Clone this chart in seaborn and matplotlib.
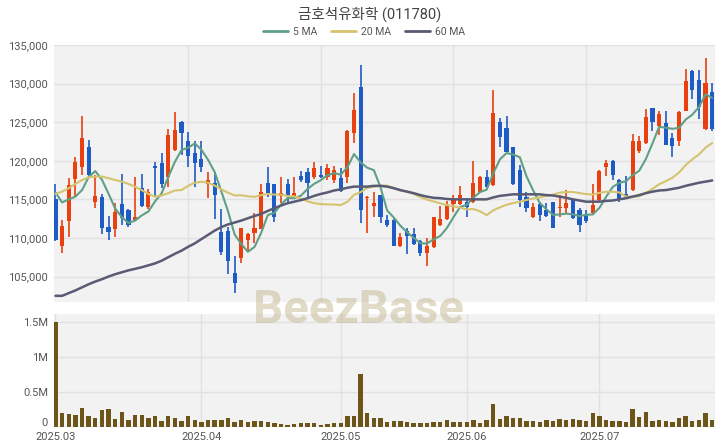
import matplotlib
matplotlib.use("Agg")
import matplotlib.pyplot as plt
from matplotlib.lines import Line2D
import matplotlib.transforms as mtransforms
import numpy as np
import pandas as pd
import seaborn as sns

# ---------------- data ----------------
title = "금호석유화학 (011780)"
month_labels = ["2025.03", "2025.04", "2025.05", "2025.06", "2025.07"]
month_pos = [0, 22, 43, 62, 82]

opens = [115000, 109000, 112200, 117700, 119250, 121750, 114600, 115350, 111450, 111150,
         114350, 113600, 112300, 116450, 114050, 119350, 119650, 117950, 121400, 125050,
         122500, 120950, 120200, 117000, 117150, 110800, 110950, 105400, 107350, 109750,
         110600, 111150, 117100, 116950, 115450, 116950, 115300, 118050, 118500, 117950,
         118150, 117950, 117500, 117750, 117950, 123550, 129600, 115150, 114150, 115550,
         112350, 112350, 108900, 110900, 110500, 109600, 108100, 108800, 111700, 112400,
         114400, 114400, 114700, 114600, 116000, 117950, 116900, 125050, 124300, 121750,
         118800, 115350, 112700, 114350, 113600, 114600, 113850, 113850, 115000, 113600,
         112950, 113200, 114900, 119250, 120000, 117500, 115700, 116200, 121250, 122250,
         126800, 124500, 124850, 123000, 122550, 126450, 131650, 130450, 124100, 128950]
highs = [117000, 112300, 117800, 120500, 125800, 122700, 118150, 115700, 112900, 114500,
         118250, 113700, 117950, 118250, 116350, 119900, 120950, 124100, 126350, 125200,
         123700, 122550, 122550, 118500, 118500, 113700, 111450, 107600, 111250, 110700,
         113200, 117000, 119150, 116950, 117850, 117600, 117950, 118700, 119100, 119900,
         119350, 119550, 119350, 119050, 124000, 128750, 132400, 115400, 116000, 115600,
         113000, 112500, 110700, 111250, 111350, 109700, 109950, 112750, 114200, 114800,
         115550, 116750, 115150, 120000, 118050, 118750, 129200, 125600, 125850, 121800,
         119450, 116000, 114500, 114700, 114500, 114650, 115550, 116200, 115100, 113850,
         113600, 116950, 118800, 120100, 120050, 117600, 118050, 123450, 123150, 126700,
         126850, 126450, 126450, 123550, 126400, 131850, 131700, 131750, 133300, 130050]
lows = [109600, 108100, 110100, 115350, 118100, 118000, 113850, 110500, 109750, 110150,
        111700, 111450, 112200, 114050, 113700, 115350, 116450, 116650, 121300, 120750,
        119250, 116650, 118600, 115200, 112450, 107800, 105350, 102850, 106700, 108300,
        109300, 111150, 115350, 112100, 114500, 114700, 115150, 117300, 115350, 117600,
        117750, 117500, 117150, 116000, 117100, 122350, 111900, 110700, 112750, 112000,
        111450, 108900, 108800, 107950, 109100, 107650, 106300, 108700, 111600, 112300,
        113300, 114300, 112700, 114500, 115900, 116500, 116700, 121750, 121100, 116900,
        113950, 113300, 112600, 112150, 112750, 111300, 112750, 113200, 112450, 110800,
        112000, 113100, 114600, 118050, 117500, 114600, 115300, 116100, 120950, 122200,
        123800, 123350, 122000, 120550, 121950, 126400, 128000, 125350, 124050, 123800]
closes = [109700, 111600, 116800, 119900, 123000, 118150, 115450, 111250, 110800, 113400,
          112550, 111700, 112750, 114200, 115900, 119100, 116950, 123350, 124000, 123550,
          120600, 119750, 119250, 117500, 115550, 108150, 106950, 104200, 111250, 110500,
          111250, 116000, 115800, 112750, 115800, 115550, 115800, 117500, 117100, 119100,
          117950, 119050, 118800, 116100, 123800, 126600, 113650, 115350, 114500, 112650,
          111700, 109000, 110100, 110200, 109200, 108000, 108900, 112750, 112450, 114300,
          115050, 115550, 114050, 117100, 117950, 116650, 126150, 123050, 121200, 117000,
          114900, 113850, 113950, 113000, 112850, 111350, 114050, 114500, 112550, 111700,
          112200, 114300, 118700, 119650, 118150, 114900, 115350, 122550, 122600, 125700,
          125050, 126050, 122050, 121850, 126350, 130400, 129200, 127000, 130050, 124100]
volumes = [1.50, 0.20, 0.19, 0.17, 0.27, 0.16, 0.13, 0.24, 0.26, 0.12,
           0.21, 0.10, 0.17, 0.17, 0.13, 0.15, 0.09, 0.16, 0.13, 0.08,
           0.15, 0.10, 0.07, 0.10, 0.10, 0.10, 0.13, 0.07, 0.10, 0.07,
           0.08, 0.09, 0.07, 0.06, 0.04, 0.03, 0.04, 0.05, 0.06, 0.05,
           0.03, 0.04, 0.05, 0.06, 0.16, 0.16, 0.76, 0.20, 0.13, 0.13,
           0.07, 0.09, 0.09, 0.07, 0.05, 0.06, 0.06, 0.07, 0.07, 0.10,
           0.07, 0.07, 0.07, 0.10, 0.06, 0.10, 0.33, 0.12, 0.15, 0.13,
           0.13, 0.09, 0.08, 0.07, 0.10, 0.08, 0.12, 0.10, 0.11, 0.10,
           0.08, 0.20, 0.16, 0.10, 0.09, 0.09, 0.07, 0.26, 0.14, 0.22,
           0.08, 0.10, 0.09, 0.07, 0.13, 0.16, 0.09, 0.10, 0.20, 0.10]  # millions
# moving-average values before enough in-window history exists
ma5_head = [115900, 114600, 115000, 115350]
ma20_head = [115700, 116000, 116450, 117000, 117500, 117850, 117950, 117950, 117750, 117500,
             117300, 117000, 116650, 116200, 115700, 115350, 115500, 115800, 116150]
ma60 = [102500, 102500, 102850, 103200, 103600, 104000, 104350, 104650, 105000, 105300,
        105550, 105800, 106000, 106200, 106450, 106700, 107050, 107500, 107950, 108350,
        108850, 109300, 109850, 110400, 110950, 111400, 111750, 112000, 112250, 112550,
        112850, 113100, 113500, 113850, 114200, 114500, 114700, 114900, 115150, 115450,
        115700, 115900, 116150, 116300, 116500, 116650, 116650, 116650, 116750, 116750,
        116650, 116450, 116200, 116000, 115800, 115550, 115350, 115200, 115150, 115050,
        115000, 115000, 115000, 115000, 115000, 115000, 115250, 115450, 115550, 115650,
        115650, 115650, 115650, 115650, 115550, 115500, 115350, 115200, 115000, 114850,
        114700, 114700, 114700, 114800, 114850, 115000, 115150, 115350, 115550, 115800,
        116000, 116150, 116200, 116350, 116500, 116750, 116950, 117150, 117300, 117450]

# ---------------- derived table ----------------
n = len(closes)
df = pd.DataFrame({"i": np.arange(n), "open": opens, "high": highs, "low": lows,
                   "close": closes, "volume": np.array(volumes) * 1e6})
ma5 = df["close"].rolling(5).mean().to_numpy()
ma5[:len(ma5_head)] = ma5_head
ma20 = df["close"].rolling(20).mean().to_numpy()
ma20[:len(ma20_head)] = ma20_head
df["ma5"] = ma5
df["ma20"] = ma20
df["ma60"] = ma60

# ---------------- style ----------------
sns.set_theme(style="white")
plt.rcParams["font.family"] = ["Roboto", "Noto Sans CJK KR", "DejaVu Sans"]

UP = "#e8400f"
DOWN = "#1f5bc4"
VOL = "#6d5519"
C5 = "#5f9f86"
C20 = "#d6c36e"
C60 = "#585b73"
BG = "#f2f2f2"
GRID = "#e1e1e1"
TXT = "#555555"

W, H = 720, 448
fig = plt.figure(figsize=(W / 100, H / 100), dpi=100)
left, right = 53.5, 715.5
ax1 = fig.add_axes([left / W, 1 - 302 / H, (right - left) / W, (302 - 45) / H])
ax2 = fig.add_axes([left / W, 1 - 427 / H, (right - left) / W, (427 - 314) / H])

for ax in (ax1, ax2):
    ax.set_facecolor(BG)
    for s in ax.spines.values():
        s.set_visible(False)
    ax.tick_params(length=0, colors=TXT, labelsize=8)
    ax.set_axisbelow(True)

# ---------------- candles ----------------
up = df["close"] >= df["open"]
colors = np.where(up, UP, DOWN)
ax1.vlines(df["i"], df["low"], df["high"], colors=colors, linewidth=1.2, zorder=2)
body_bottom = np.minimum(df["open"], df["close"])
body_h = np.maximum((df["close"] - df["open"]).abs(), 120)
ax1.bar(df["i"], body_h, bottom=body_bottom, width=0.62, color=colors, linewidth=0, zorder=3)

sns.lineplot(data=df, x="i", y="ma5", ax=ax1, color=C5, linewidth=1.5, zorder=4)
sns.lineplot(data=df, x="i", y="ma20", ax=ax1, color=C20, linewidth=1.5, zorder=4)
sns.lineplot(data=df, x="i", y="ma60", ax=ax1, color=C60, linewidth=1.8, zorder=4)

ax1.set_xlim(-0.3, 99.5)
ax1.set_ylim(101700, 135000)
yt = list(range(105000, 135001, 5000))
ax1.set_yticks(yt)
ax1.set_yticklabels([f"{v:,}" for v in yt])
ax1.set_xticks([20, 40, 60, 80])
ax1.set_xticklabels([])
ax1.grid(True, color=GRID, linewidth=1)
ax1.set_xlabel("")
ax1.set_ylabel("")
ax1.tick_params(axis="y", pad=4)

# ---------------- volume ----------------
sns.barplot(data=df, x="i", y="volume", ax=ax2, native_scale=True, color=VOL,
            width=0.66, saturation=1, linewidth=0, zorder=3)
ax2.set_xlim(-0.3, 99.5)
ax2.set_ylim(0, 1.61e6)
ax2.set_yticks([0, 0.5e6, 1e6, 1.5e6])
ax2.set_yticklabels(["0", "0.5M", "1M", "1.5M"])
ax2.set_xticks(month_pos)
ax2.set_xticklabels(month_labels)
ax2.grid(True, color=GRID, linewidth=1)
ax2.set_xlabel("")
ax2.set_ylabel("")
ax2.tick_params(axis="x", pad=3.5)
ax2.tick_params(axis="y", pad=4)
# lift the "0" label slightly so it clears the first date label (as in the reference)
zero_lbl = ax2.get_yticklabels()[0]
zero_lbl.set_transform(zero_lbl.get_transform() +
                       mtransforms.ScaledTranslation(0, 3.5 / 72, fig.dpi_scale_trans))

# ---------------- title, legend, watermark ----------------
fig.text(370 / W, 1 - 14 / H, title, ha="center", va="center", fontsize=10.5, color="#444444")
handles = [Line2D([0], [0], color=C5, lw=2), Line2D([0], [0], color=C20, lw=2),
           Line2D([0], [0], color=C60, lw=2)]
fig.legend(handles, ["5 MA", "20 MA", "60 MA"], loc="center", ncol=3,
           bbox_to_anchor=(364 / W, 1 - 32 / H), frameon=False, fontsize=7.5,
           handlelength=2.4, handletextpad=0.5, columnspacing=1.3, labelcolor="#555555")
fig.text(358 / W, 1 - 310 / H, "BeezBase", ha="center", va="center", fontsize=34,
         fontweight="bold", color="#c2b48a", alpha=0.48, family=["Roboto", "DejaVu Sans"])

fig.savefig("out.png", dpi=100)
